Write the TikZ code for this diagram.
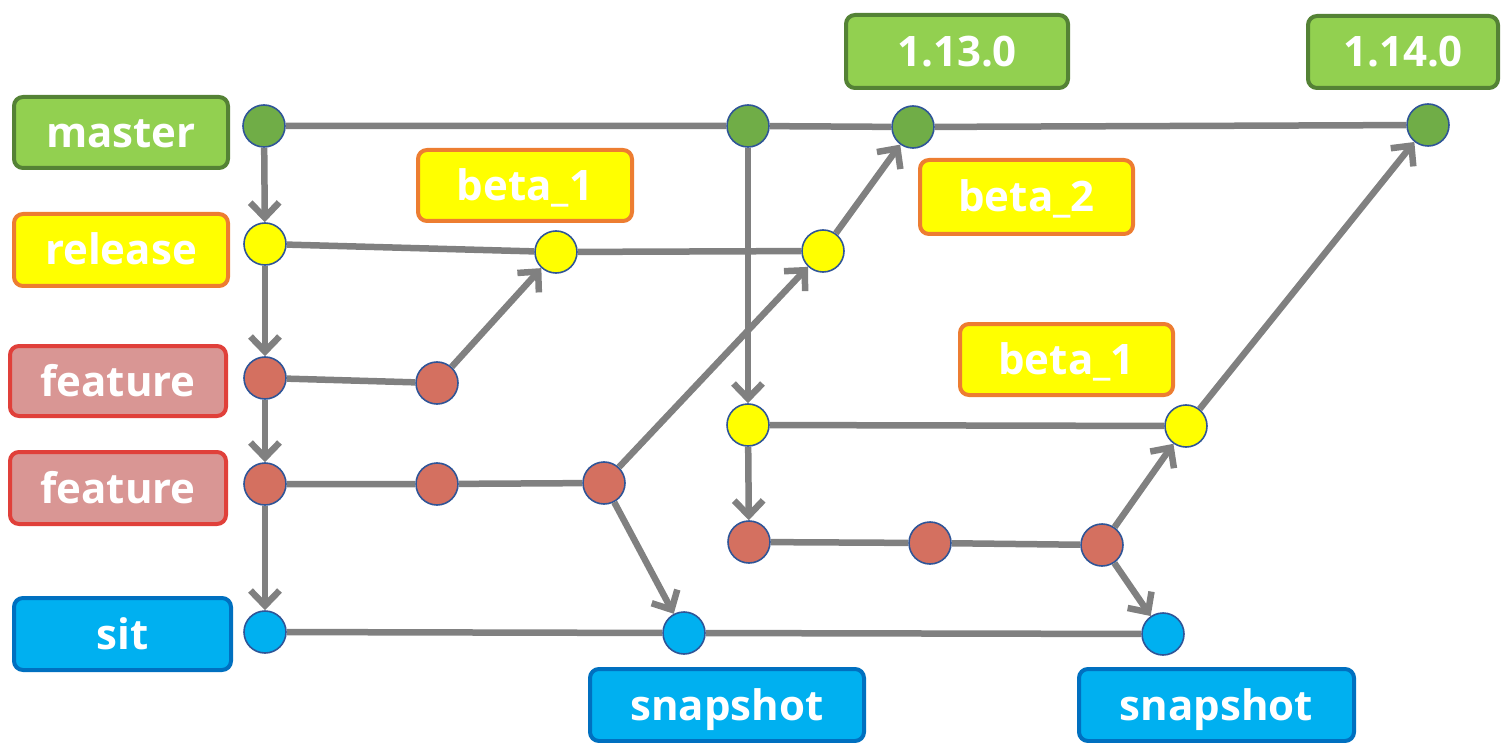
\documentclass[tikz,border=0pt]{standalone}
\usepackage{fontspec}
\setmainfont{Open Sans}
\usetikzlibrary{arrows.meta}
\definecolor{lineGray}{HTML}{808080}
\definecolor{ringBlue}{HTML}{2F5597}
\definecolor{greenFill}{HTML}{92D050}
\definecolor{greenEdge}{HTML}{548235}
\definecolor{greenDot}{HTML}{70AD47}
\definecolor{yellowFill}{HTML}{FFFF00}
\definecolor{orangeEdge}{HTML}{ED7D31}
\definecolor{redFill}{HTML}{D99694}
\definecolor{redEdge}{HTML}{E0403A}
\definecolor{redDot}{HTML}{D47060}
\definecolor{blueFill}{HTML}{00B0F0}
\definecolor{blueEdge}{HTML}{0070C0}
\tikzset{
  label box/.style={draw, rounded corners=9pt, line width=4pt, inner sep=0pt,
    text=white, font=\fontsize{42}{42}\selectfont\bfseries,
    text height=30pt, text depth=0pt},
  greenbox/.style={label box, fill=greenFill, draw=greenEdge},
  yellowbox/.style={label box, fill=yellowFill, draw=orangeEdge},
  redbox/.style={label box, fill=redFill, draw=redEdge},
  bluebox/.style={label box, fill=blueFill, draw=blueEdge},
  commit/.style={circle, draw=ringBlue, line width=1.6pt, minimum size=42pt, inner sep=0pt},
  gdot/.style={commit, fill=greenDot},
  ydot/.style={commit, fill=yellowFill},
  rdot/.style={commit, fill=redDot},
  bdot/.style={commit, fill=blueFill},
  branchline/.style={draw=lineGray, line width=6.5pt},
  flow/.style={branchline, -{Straight Barb[length=15pt,width=29pt,line width=6.5pt]}},
}
\begin{document}
\begin{tikzpicture}[x=1pt,y=-1pt]
\useasboundingbox (0,0) rectangle (1512,743);

% branch labels on the left
\node[greenbox, minimum width=214pt, minimum height=71pt] (lmaster) at (121,132.5) {master};
\node[yellowbox, minimum width=214pt, minimum height=72pt] (lrelease) at (121,250) {release};
\node[redbox, minimum width=216pt, minimum height=70pt] (lfeatA) at (118,381) {feature};
\node[redbox, minimum width=216pt, minimum height=72pt] (lfeatB) at (118,488) {feature};
\node[bluebox, minimum width=217pt, minimum height=72pt] (lsit) at (122.5,634) {sit};

% tags
\node[greenbox, minimum width=222pt, minimum height=73pt] (t1130) at (957,51.5) {1.13.0};
\node[greenbox, minimum width=190pt, minimum height=72pt] (t1140) at (1403,52) {1.14.0};
\node[yellowbox, minimum width=214pt, minimum height=71pt] (tbetaA) at (525,185.5) {beta\_1};
\node[yellowbox, minimum width=213pt, minimum height=74pt] (tbetaB) at (1026.5,197) {beta\_2};
\node[yellowbox, minimum width=213pt, minimum height=71pt] (tbetaC) at (1066.5,359.5) {beta\_1};
\node[bluebox, minimum width=274pt, minimum height=72pt] (tsnapA) at (727,705) {snapshot};
\node[bluebox, minimum width=275pt, minimum height=72pt] (tsnapB) at (1216.5,705) {snapshot};

% commits
\node[gdot] (m0) at (264,126) {};
\node[gdot] (m1) at (748,126) {};
\node[gdot] (m2) at (913,127) {};
\node[gdot] (m3) at (1428,125) {};

\node[ydot] (r0) at (265,244) {};
\node[ydot] (r1) at (556,252) {};
\node[ydot] (r2) at (823,251) {};

\node[rdot] (fa0) at (265,378) {};
\node[rdot] (fa1) at (437,383) {};

\node[rdot] (fb0) at (265,484) {};
\node[rdot] (fb1) at (437,484) {};
\node[rdot] (fb2) at (604,483) {};

\node[ydot] (r3) at (748,425) {};
\node[ydot] (r4) at (1186,426) {};

\node[rdot] (fc0) at (749,542) {};
\node[rdot] (fc1) at (930,543) {};
\node[rdot] (fc2) at (1102,545) {};

\node[bdot] (s0) at (265,632) {};
\node[bdot] (s1) at (684,633) {};
\node[bdot] (s2) at (1163,634) {};

% branch lines
\path[branchline] (m0) -- (m1) -- (m2) -- (m3);
\path[branchline] (r0) -- (r1) -- (r2);
\path[branchline] (fa0) -- (fa1);
\path[branchline] (fb0) -- (fb1) -- (fb2);
\path[branchline] (r3) -- (r4);
\path[branchline] (fc0) -- (fc1) -- (fc2);
\path[branchline] (s0) -- (s1) -- (s2);

% merges and forks
\path[flow] (m0) -- (r0);
\path[flow] (r0) -- (fa0);
\path[flow] (fa0) -- (fb0);
\path[flow] (fb0) -- (s0);
\path[flow] (fa1) -- (r1);
\path[flow] (fb2) -- (r2);
\path[flow] (fb2) -- (s1);
\path[flow] (r2) -- (m2);
\path[flow] (m1) -- (r3);
\path[flow] (r3) -- (fc0);
\path[flow] (fc2) -- (r4);
\path[flow] (fc2) -- (s2);
\path[flow] (r4) -- (m3);
\end{tikzpicture}
\end{document}
